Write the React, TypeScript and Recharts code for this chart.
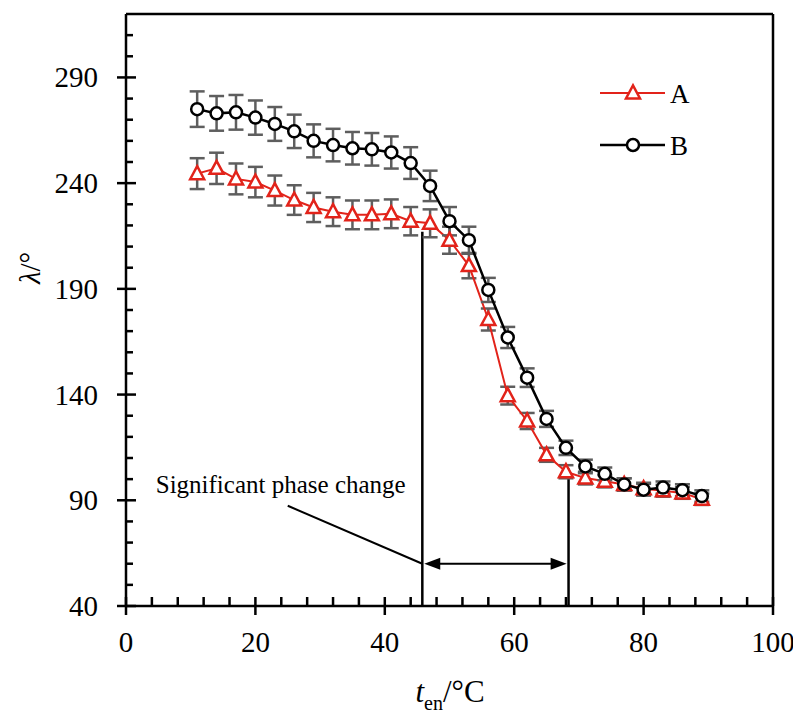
import * as React from 'react';
import {
  LineChart, Line, XAxis, YAxis, ErrorBar, ReferenceLine, ReferenceDot, Legend
} from 'recharts';

// entry temperature, degC
const temps = [11, 14, 17, 20, 23, 26, 29, 32, 35, 38, 41, 44, 47, 50, 53, 56, 59, 62, 65, 68, 71, 74, 77, 80, 83, 86, 89];
// contact angle lambda, deg
const lambdaA = [244.5, 247, 242, 240.5, 236.5, 232, 228.5, 226.5, 225, 225, 225.5, 222, 221, 213, 201, 175.5, 139.5, 127.5, 111.5, 103.5, 100.5, 99, 97.5, 95.5, 94.5, 93.5, 90.5];
const lambdaB = [275, 273, 273.5, 271, 268, 264.5, 260, 258, 256.5, 256, 254.5, 249.5, 238.7, 222, 213, 189.5, 167, 148, 128.5, 114.8, 106, 102.5, 97.5, 95, 96, 94.8, 92];
const errA = [7.3, 7.4, 7.3, 7.2, 7.1, 7.0, 6.9, 6.8, 6.8, 6.8, 6.8, 6.7, 6.6, 6.4, 6.0, 5.2, 4.2, 3.8, 3.3, 3.1, 3.0, 2.9, 2.9, 2.8, 2.8, 2.8, 2.7];
const errB = [8.4, 8.2, 8.2, 8.1, 8.0, 7.9, 7.8, 7.7, 7.7, 7.7, 7.6, 7.5, 7.2, 6.7, 6.4, 5.7, 5.0, 4.4, 3.8, 3.4, 3.2, 3.0, 2.9, 2.8, 2.9, 2.8, 2.7];

const xTicks = [0, 4, 8, 12, 16, 20, 24, 28, 32, 36, 40, 44, 48, 52, 56, 60, 64, 68, 72, 76, 80, 84, 88, 92, 96, 100];
const yTicks = [40, 50, 60, 70, 80, 90, 100, 110, 120, 130, 140, 150, 160, 170, 180, 190, 200, 210, 220, 230, 240, 250, 260, 270, 280, 290, 300, 310];
const xLabels = [0, 20, 40, 60, 80, 100];
const yLabels = [40, 90, 140, 190, 240, 290];

// phase change window
const phaseStart = 45.8;
const phaseEnd = 68.4;

const data = temps.map((t, i) => ({
  t, a: lambdaA[i], b: lambdaB[i], errA: errA[i], errB: errB[i]
}));

const FONT = '"Liberation Serif", "Times New Roman", serif';
const RED = '#e2231a';
const GREY = '#5e5e5e';

const XTick = (props: any) => {
  const { x, y, payload } = props;
  const major = xLabels.includes(payload.value);
  return (
    <g>
      <line x1={x} x2={x} y1={major ? y + 9 : y} y2={y - 9} stroke="#000" strokeWidth={2.5} />
      {major && (
        <text x={x} y={y + 46} textAnchor="middle" fontFamily={FONT} fontSize={29} fill="#000">
          {payload.value}
        </text>
      )}
    </g>
  );
};

const YTick = (props: any) => {
  const { x, y, payload } = props;
  const major = yLabels.includes(payload.value);
  return (
    <g>
      <line x1={major ? x - 9 : x} x2={major ? x + 10 : x + 7} y1={y} y2={y} stroke="#000" strokeWidth={2.5} />
      {major && (
        <text x={x - 28} y={y + 10} textAnchor="end" fontFamily={FONT} fontSize={29} fill="#000">
          {payload.value}
        </text>
      )}
    </g>
  );
};

const Triangle = (props: any) => {
  const { cx, cy } = props;
  if (cx == null || cy == null) return null;
  return (
    <polygon
      points={`${cx - 7},${cy + 5.5} ${cx + 7},${cy + 5.5} ${cx},${cy - 7.5}`}
      fill="#fff" stroke={RED} strokeWidth={2.5}
    />
  );
};

const Circle = (props: any) => {
  const { cx, cy } = props;
  if (cx == null || cy == null) return null;
  return <circle cx={cx} cy={cy} r={6} fill="#fff" stroke="#000" strokeWidth={2.5} />;
};

const ArrowHead = (dir: number) => (props: any) => {
  const { cx, cy } = props;
  return (
    <polygon
      points={`${cx},${cy} ${cx + dir * 16},${cy - 6} ${cx + dir * 16},${cy + 6}`}
      fill="#000"
    />
  );
};

const LegendBox = () => (
  <svg width={160} height={90} style={{ overflow: 'visible' }}>
    <line x1={0} x2={65} y1={15} y2={15} stroke={RED} strokeWidth={2} />
    <Triangle cx={33} cy={15} />
    <text x={70} y={25} fontFamily={FONT} fontSize={27}>A</text>
    <line x1={0} x2={65} y1={67} y2={67} stroke="#000" strokeWidth={2.5} />
    <Circle cx={33} cy={67} />
    <text x={70} y={77} fontFamily={FONT} fontSize={27}>B</text>
  </svg>
);

const App: React.FunctionComponent = () => {
  return (
    <LineChart
      width={790}
      height={708}
      data={data}
      margin={{ top: 6, right: 25, bottom: 0, left: 0 }}
    >
      <XAxis
        dataKey="t"
        type="number"
        domain={[0, 100]}
        ticks={xTicks}
        interval={0}
        tick={<XTick />}
        tickSize={0}
        tickMargin={0}
        tickLine={false}
        height={110}
        axisLine={{ stroke: '#000', strokeWidth: 2.5 }}
        label={{
          content: () => (
            <text x={442} y={694} textAnchor="middle" fontFamily={FONT} fontSize={31} fill="#000">
              <tspan fontStyle="italic">t</tspan>
              <tspan fontSize={20} dy={8}>en</tspan>
              <tspan dy={-8}>/°C</tspan>
            </text>
          )
        }}
      />
      <YAxis
        type="number"
        domain={[40, 320]}
        ticks={yTicks}
        interval={0}
        tick={<YTick />}
        tickSize={0}
        tickMargin={0}
        tickLine={false}
        width={118}
        axisLine={{ stroke: '#000', strokeWidth: 2.5 }}
        label={{
          content: () => (
            <text
              x={22} y={260} textAnchor="middle" fontFamily={FONT} fontSize={29} fill="#000"
              transform="rotate(-90 22 260)" dy={10}
            >
              <tspan fontStyle="italic">λ</tspan>/°
            </text>
          )
        }}
      />
      <ReferenceLine y={320} stroke="#000" strokeWidth={2.5} />
      <ReferenceLine x={100} stroke="#000" strokeWidth={2.5} />

      <ReferenceLine segment={[{ x: phaseStart, y: 217 }, { x: phaseStart, y: 40 }]} stroke="#000" strokeWidth={2.5} />
      <ReferenceLine segment={[{ x: phaseEnd, y: 105 }, { x: phaseEnd, y: 40 }]} stroke="#000" strokeWidth={2.5} />
      <ReferenceLine segment={[{ x: phaseStart + 1.5, y: 60 }, { x: phaseEnd - 1.5, y: 60 }]} stroke="#000" strokeWidth={2} />
      <ReferenceDot x={phaseStart + 0.3} y={60} r={0} shape={ArrowHead(1)} />
      <ReferenceDot x={phaseEnd - 0.3} y={60} r={0} shape={ArrowHead(-1)} />
      <ReferenceLine segment={[{ x: 25, y: 87.4 }, { x: phaseStart, y: 60 }]} stroke="#000" strokeWidth={2} />
      <ReferenceDot
        x={4.6} y={93.5} r={0}
        shape={(p: any) => (
          <text x={p.cx} y={p.cy} fontFamily={FONT} fontSize={25} fill="#000">
            Significant phase change
          </text>
        )}
      />

      <Line
        dataKey="a"
        stroke={RED}
        strokeWidth={2}
        dot={<Triangle />}
        isAnimationActive={false}
      >
        <ErrorBar dataKey="errA" width={7.5} stroke={GREY} strokeWidth={2.5} />
      </Line>
      <Line
        dataKey="b"
        stroke="#000"
        strokeWidth={2.5}
        dot={<Circle />}
        isAnimationActive={false}
      >
        <ErrorBar dataKey="errB" width={7.5} stroke={GREY} strokeWidth={2.5} />
      </Line>
      <Legend
        layout="vertical"
        align="center"
        verticalAlign="middle"
        content={<LegendBox />}
        wrapperStyle={{ position: 'absolute', left: 592, top: 70, width: 160, height: 90 }}
      />
    </LineChart>
  );
};

export default App;
